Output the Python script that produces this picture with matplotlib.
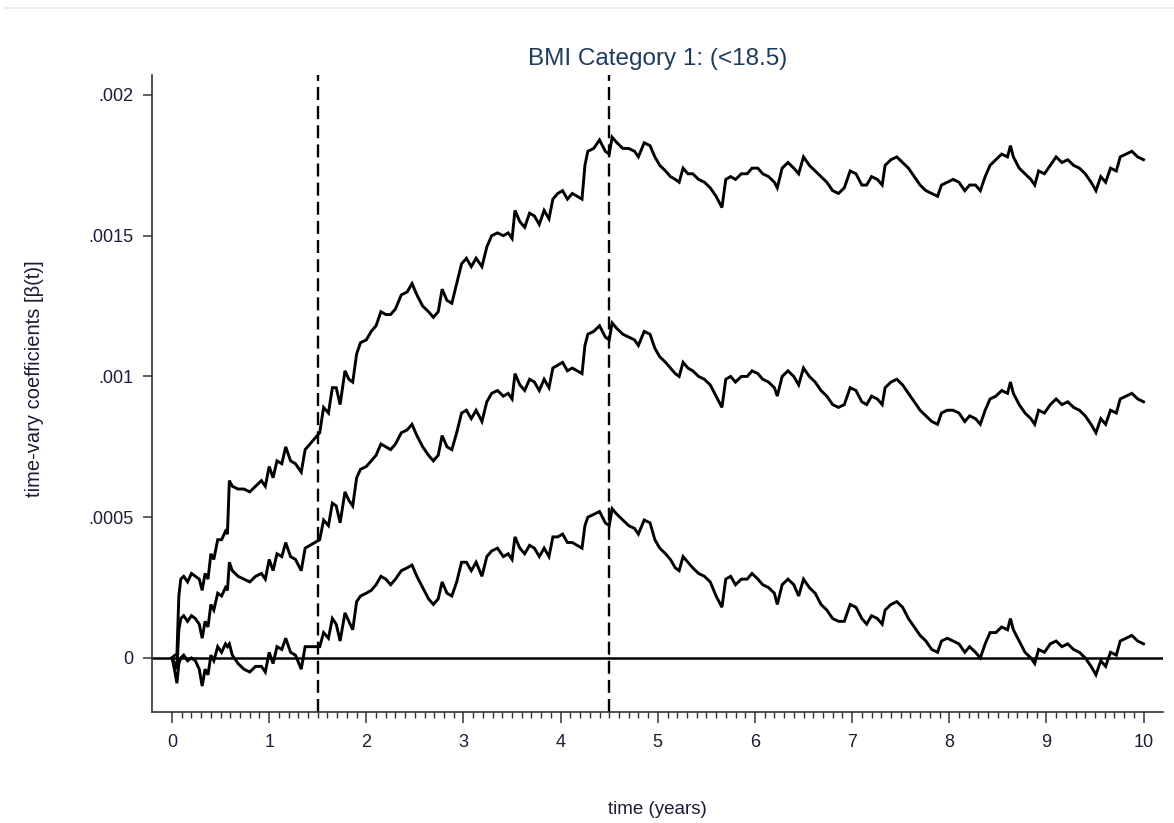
import matplotlib
matplotlib.use("Agg")
import matplotlib.pyplot as plt
from matplotlib.lines import Line2D
from matplotlib.ticker import FixedLocator
import numpy as np

# Cumulative time-varying coefficient for BMI category 1 and its 95% band half-width
time_years = [
    0.00, 0.03, 0.05, 0.07, 0.09, 0.12, 0.16, 0.20, 0.24, 0.28, 0.31, 0.34, 0.37, 0.40,
    0.43, 0.47, 0.51, 0.55, 0.57, 0.59, 0.62, 0.68, 0.74, 0.80, 0.86, 0.92, 0.96, 1.00,
    1.04, 1.08, 1.13, 1.17, 1.22, 1.27, 1.33, 1.37, 1.42, 1.47, 1.52, 1.56, 1.61, 1.65,
    1.69, 1.73, 1.78, 1.82, 1.86, 1.90, 1.94, 2.00, 2.05, 2.10, 2.15, 2.20, 2.25, 2.30,
    2.36, 2.42, 2.47, 2.52, 2.58, 2.64, 2.69, 2.74, 2.78, 2.83, 2.88, 2.93, 2.98, 3.03,
    3.08, 3.13, 3.19, 3.24, 3.29, 3.35, 3.41, 3.46, 3.50, 3.53, 3.58, 3.63, 3.68, 3.73,
    3.78, 3.83, 3.88, 3.92, 3.97, 4.02, 4.07, 4.12, 4.17, 4.22, 4.25, 4.28, 4.34, 4.40,
    4.46, 4.50, 4.53, 4.58, 4.64, 4.70, 4.76, 4.80, 4.86, 4.92, 4.97, 5.02, 5.08, 5.13,
    5.18, 5.22, 5.26, 5.31, 5.36, 5.42, 5.48, 5.54, 5.60, 5.66, 5.70, 5.75, 5.80, 5.86,
    5.92, 5.97, 6.03, 6.08, 6.14, 6.20, 6.23, 6.28, 6.34, 6.40, 6.45, 6.50, 6.56, 6.62,
    6.68, 6.74, 6.80, 6.86, 6.92, 6.98, 7.04, 7.10, 7.15, 7.20, 7.26, 7.31, 7.34, 7.40,
    7.46, 7.52, 7.58, 7.64, 7.70, 7.76, 7.82, 7.88, 7.92, 7.98, 8.04, 8.10, 8.16, 8.21,
    8.27, 8.32, 8.37, 8.42, 8.48, 8.54, 8.60, 8.63, 8.66, 8.72, 8.78, 8.84, 8.88, 8.92,
    8.98, 9.04, 9.10, 9.16, 9.22, 9.28, 9.34, 9.40, 9.46, 9.51, 9.56, 9.61, 9.66, 9.72,
    9.76, 9.82, 9.88, 9.94, 10.00,
]

beta = [
    0.00000, -0.00002, -0.00004, 0.00010, 0.00014, 0.00015, 0.00013, 0.00015, 0.00014, 0.00012,
    0.00007, 0.00013, 0.00011, 0.00019, 0.00017, 0.00023, 0.00022, 0.00025, 0.00024, 0.00034,
    0.00031, 0.00029, 0.00028, 0.00027, 0.00029, 0.00030, 0.00028, 0.00035, 0.00031, 0.00037,
    0.00036, 0.00041, 0.00036, 0.00035, 0.00031, 0.00039, 0.00040, 0.00041, 0.00042, 0.00049,
    0.00047, 0.00055, 0.00054, 0.00048, 0.00059, 0.00056, 0.00054, 0.00064, 0.00067, 0.00068,
    0.00070, 0.00072, 0.00076, 0.00075, 0.00074, 0.00076, 0.00080, 0.00081, 0.00083, 0.00079,
    0.00075, 0.00072, 0.00070, 0.00072, 0.00079, 0.00075, 0.00074, 0.00080, 0.00087, 0.00088,
    0.00085, 0.00088, 0.00084, 0.00091, 0.00094, 0.00095, 0.00093, 0.00094, 0.00092, 0.00101,
    0.00097, 0.00095, 0.00099, 0.00098, 0.00095, 0.00099, 0.00096, 0.00103, 0.00104, 0.00105,
    0.00102, 0.00103, 0.00102, 0.00101, 0.00111, 0.00115, 0.00116, 0.00118, 0.00114, 0.00113,
    0.00119, 0.00117, 0.00115, 0.00114, 0.00113, 0.00111, 0.00116, 0.00115, 0.00110, 0.00107,
    0.00105, 0.00103, 0.00101, 0.00100, 0.00105, 0.00103, 0.00102, 0.00100, 0.00099, 0.00097,
    0.00093, 0.00089, 0.00099, 0.00100, 0.00098, 0.00100, 0.00100, 0.00102, 0.00101, 0.00099,
    0.00098, 0.00096, 0.00093, 0.00100, 0.00102, 0.00100, 0.00097, 0.00103, 0.00100, 0.00098,
    0.00095, 0.00093, 0.00090, 0.00089, 0.00090, 0.00096, 0.00095, 0.00091, 0.00090, 0.00093,
    0.00092, 0.00090, 0.00096, 0.00098, 0.00099, 0.00097, 0.00094, 0.00091, 0.00088, 0.00086,
    0.00084, 0.00083, 0.00087, 0.00088, 0.00088, 0.00087, 0.00084, 0.00086, 0.00085, 0.00083,
    0.00088, 0.00092, 0.00093, 0.00095, 0.00094, 0.00098, 0.00094, 0.00090, 0.00087, 0.00085,
    0.00083, 0.00088, 0.00087, 0.00090, 0.00092, 0.00090, 0.00091, 0.00089, 0.00088, 0.00086,
    0.00083, 0.00080, 0.00085, 0.00083, 0.00088, 0.00087, 0.00092, 0.00093, 0.00094, 0.00092,
    0.00091,
]

band_halfwidth = [
    0.00000, 0.00003, 0.00005, 0.00012, 0.00014, 0.00014, 0.00014, 0.00015, 0.00015, 0.00016,
    0.00017, 0.00017, 0.00017, 0.00018, 0.00018, 0.00019, 0.00020, 0.00020, 0.00020, 0.00029,
    0.00030, 0.00031, 0.00032, 0.00032, 0.00032, 0.00033, 0.00033, 0.00033, 0.00033, 0.00033,
    0.00033, 0.00034, 0.00034, 0.00034, 0.00035, 0.00035, 0.00036, 0.00037, 0.00038, 0.00040,
    0.00040, 0.00041, 0.00042, 0.00042, 0.00043, 0.00043, 0.00044, 0.00044, 0.00045, 0.00045,
    0.00046, 0.00046, 0.00047, 0.00047, 0.00048, 0.00048, 0.00049, 0.00049, 0.00050, 0.00050,
    0.00050, 0.00051, 0.00051, 0.00051, 0.00052, 0.00052, 0.00052, 0.00053, 0.00053, 0.00054,
    0.00054, 0.00054, 0.00055, 0.00055, 0.00056, 0.00056, 0.00057, 0.00057, 0.00057, 0.00058,
    0.00058, 0.00058, 0.00059, 0.00059, 0.00059, 0.00060, 0.00060, 0.00060, 0.00061, 0.00061,
    0.00061, 0.00062, 0.00062, 0.00062, 0.00064, 0.00065, 0.00065, 0.00066, 0.00066, 0.00066,
    0.00066, 0.00066, 0.00066, 0.00067, 0.00067, 0.00067, 0.00067, 0.00067, 0.00068, 0.00068,
    0.00068, 0.00068, 0.00069, 0.00069, 0.00069, 0.00069, 0.00070, 0.00070, 0.00070, 0.00070,
    0.00071, 0.00071, 0.00071, 0.00071, 0.00072, 0.00072, 0.00072, 0.00072, 0.00073, 0.00073,
    0.00073, 0.00073, 0.00074, 0.00074, 0.00074, 0.00074, 0.00075, 0.00075, 0.00075, 0.00075,
    0.00076, 0.00076, 0.00076, 0.00076, 0.00077, 0.00077, 0.00077, 0.00077, 0.00078, 0.00078,
    0.00078, 0.00078, 0.00079, 0.00079, 0.00079, 0.00079, 0.00080, 0.00080, 0.00080, 0.00080,
    0.00081, 0.00081, 0.00081, 0.00081, 0.00082, 0.00082, 0.00082, 0.00082, 0.00083, 0.00083,
    0.00083, 0.00083, 0.00084, 0.00084, 0.00084, 0.00084, 0.00084, 0.00084, 0.00085, 0.00085,
    0.00085, 0.00085, 0.00085, 0.00085, 0.00086, 0.00086, 0.00086, 0.00086, 0.00086, 0.00086,
    0.00086, 0.00086, 0.00086, 0.00086, 0.00086, 0.00086, 0.00086, 0.00086, 0.00086, 0.00086,
    0.00086,
]

cutpoints = [1.5, 4.5]
x_major = list(range(0, 11))
y_ticks = [0, 0.0005, 0.001, 0.0015, 0.002]
y_labels = ["0", ".0005", ".001", ".0015", ".002"]

title_text = "BMI Category 1: (<18.5)"
xlabel_text = "time (years)"
ylabel_text = "time-vary coefficients [\u03b2(t)]"

sans = ["Liberation Sans", "DejaVu Sans"]
text_col = "#1c1c34"

fig = plt.figure(figsize=(11.74, 8.23), dpi=100)
ax = fig.add_axes([0.1295, 0.1349, 0.8611, 0.774])

t = np.array(time_years)
b = np.array(beta)
hw = np.array(band_halfwidth)

# upper bound, estimate, lower bound
for series in (b + hw, b, b - hw):
    ax.plot(t, series, color="black", lw=2.1, solid_joinstyle="miter", zorder=3)

ax.axhline(0, color="black", lw=1.8, zorder=2)
for c in cutpoints:
    ax.axvline(c, color="black", lw=1.7, dashes=(5.5, 2.6), zorder=2)

ax.set_xlim(-0.206, 10.2)
ax.set_ylim(-0.000192, 0.002071)

ax.spines["top"].set_visible(False)
ax.spines["right"].set_visible(False)
for s in ("left", "bottom"):
    ax.spines[s].set_color("#333333")
    ax.spines[s].set_linewidth(1.2)

ax.xaxis.set_major_locator(FixedLocator(x_major))
ax.xaxis.set_minor_locator(FixedLocator([i / 10 for i in range(0, 101) if i % 10]))
ax.set_yticks(y_ticks)
ax.set_yticklabels(y_labels)

ax.tick_params(axis="x", which="major", direction="out", length=8, width=1.1,
               color="#333333", pad=8, labelsize=13, labelcolor=text_col)
ax.tick_params(axis="x", which="minor", direction="out", length=4.5, width=1.0,
               color="#333333")
ax.tick_params(axis="y", which="major", direction="out", length=6.5, width=1.1,
               color="#333333", pad=7, labelsize=13, labelcolor=text_col)
for lab in ax.get_xticklabels() + ax.get_yticklabels():
    lab.set_family(sans)

ax.set_title(title_text, family=sans, fontsize=17.5, color="#1f3b5c", pad=7)

fig.text(0.0298, 0.54, ylabel_text, rotation=90, ha="center", va="center",
         family=sans, fontsize=14.5, color=text_col)
fig.text(0.5596, 0.0158, xlabel_text, ha="center", va="center",
         family=sans, fontsize=13.5, color=text_col)

# thin separator across the top of the canvas
fig.add_artist(Line2D([0.004, 1.0], [0.9903, 0.9903], transform=fig.transFigure,
                      color="#e6e9ec", lw=1.2))

fig.savefig("out.png", dpi=100, facecolor="white")
